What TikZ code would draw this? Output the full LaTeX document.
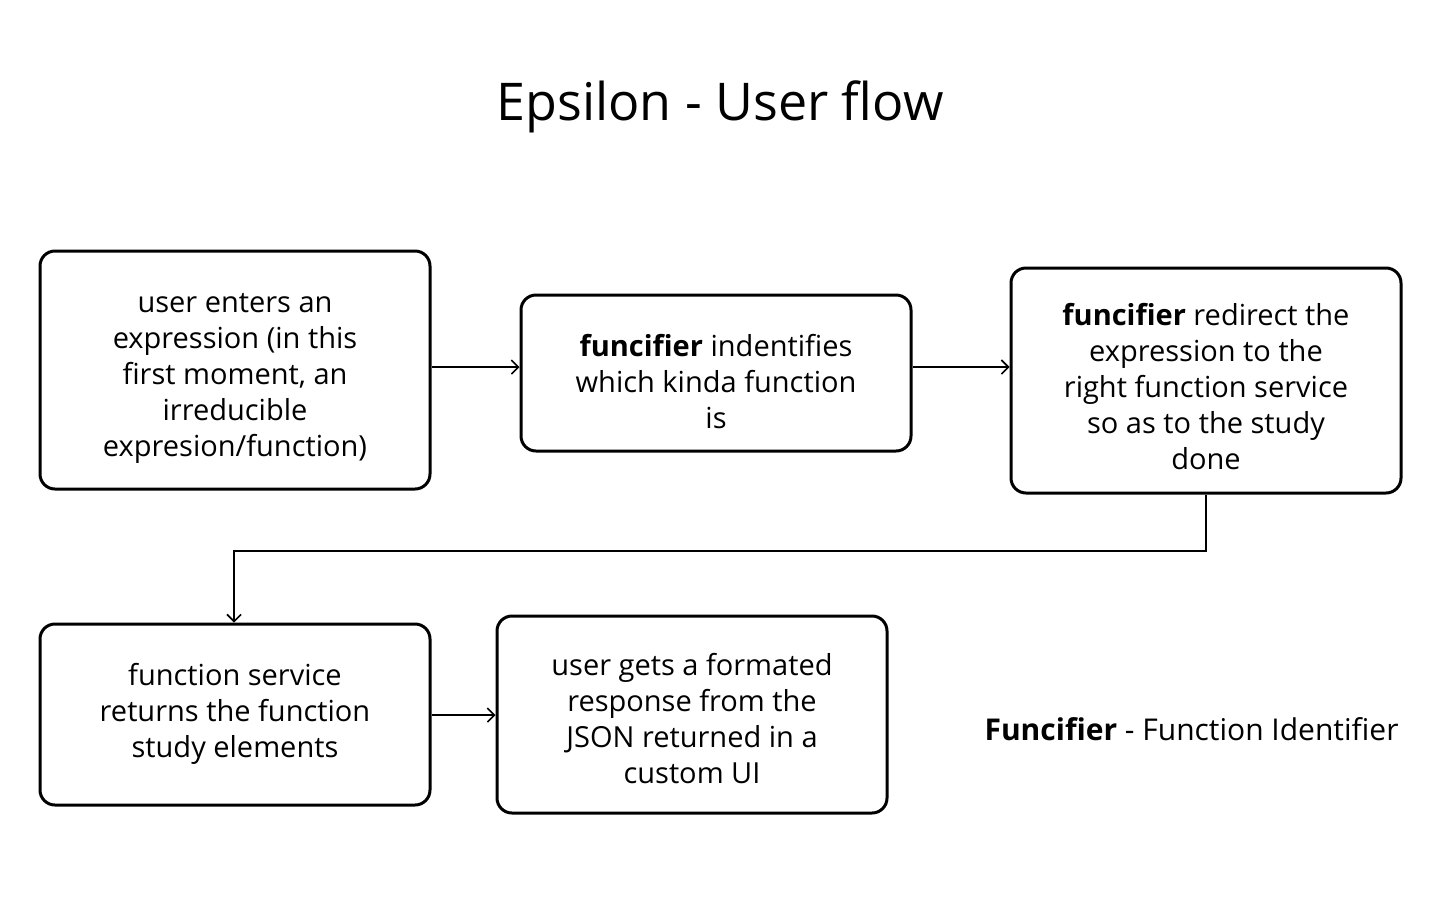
\documentclass[tikz,border=0pt]{standalone}
\usepackage{fontspec}
\setmainfont{Open Sans}
\usetikzlibrary{arrows.meta}
\tikzset{
  box/.style={draw, line width=3pt, rounded corners=15pt, inner sep=0pt, minimum width=390pt},
  txt/.style={align=center, inner sep=0pt, font=\fontsize{29}{36}\selectfont, yshift=-6pt},
  link/.style={line width=1.6pt, -{Straight Barb[length=7pt,width=14pt,line width=1.6pt]}},
}
\begin{document}
\begin{tikzpicture}[x=1pt,y=-1pt]
\useasboundingbox (0,0) rectangle (1440,919);
\node[font=\fontsize{52}{60}\selectfont] (title) at (720,107) {Epsilon - User flow};
\node[box, minimum height=238pt, label={[txt, yshift=-2pt]center:{user enters an\\expression (in this\\first moment, an\\irreducible\\expresion/function)}}] (b1) at (235,370) {};
\node[box, minimum height=156pt, label={[txt, yshift=-3pt]center:{\textbf{funcifier} indentifies\\which kinda function\\is}}] (b2) at (716,373) {};
\node[box, minimum height=225pt, label={[txt]center:{\textbf{funcifier} redirect the\\expression to the\\right function service\\so as to the study\\done}}] (b3) at (1206,380.5) {};
\node[box, minimum height=181pt, label={[txt, yshift=7pt]center:{function service\\returns the function\\study elements}}] (b4) at (235,714.5) {};
\node[box, minimum height=197pt, label={[txt, yshift=2pt]center:{user gets a formated\\response from the\\JSON returned in a\\custom UI}}] (b5) at (692,714.5) {};
\node[font=\fontsize{30}{36}\selectfont, anchor=east] (legend) at (1402,729) {\textbf{Funcifier} - Function Identifier};
\draw[link] (b1.east |- 0,367) -- (b2.west |- 0,367);
\draw[link] (b2.east |- 0,367) -- (b3.west |- 0,367);
\coordinate (c1) at (1206,551);
\coordinate (c2) at (234,551);
\draw[link] (b3.south) -- (c1) -- (c2) -- (b4.north -| c2);
\draw[link] (b4.east |- 0,715) -- (b5.west |- 0,715);
\end{tikzpicture}
\end{document}
